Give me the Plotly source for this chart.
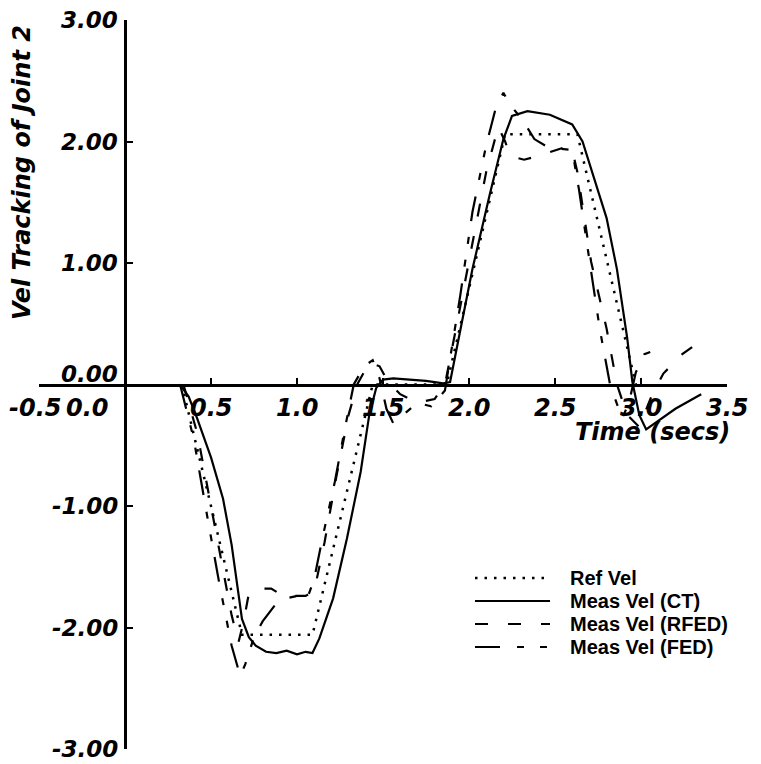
import plotly.graph_objects as go

# ---------------- data ----------------
t_ref = [0.33, 0.68, 1.09, 1.44, 1.87, 2.21, 2.63, 2.97]
v_ref = [0.0, -2.06, -2.06, 0.0, 0.0, 2.06, 2.06, 0.0]

t_ct = [0.32, 0.37, 0.42, 0.50, 0.57, 0.62, 0.68, 0.72, 0.76, 0.82, 0.88, 0.94, 1.00, 1.05,
        1.09, 1.13, 1.21, 1.29, 1.37, 1.42, 1.46, 1.50, 1.56, 1.65, 1.75, 1.85, 1.89, 1.95,
        2.02, 2.12, 2.20, 2.25, 2.34, 2.47, 2.60, 2.66, 2.74, 2.80, 2.86, 2.92, 2.95, 2.99,
        3.03, 3.10, 3.20, 3.35]
v_ct = [0.0, -0.10, -0.28, -0.60, -0.94, -1.32, -1.93, -2.08, -2.15, -2.20, -2.21, -2.19,
        -2.22, -2.20, -2.21, -2.09, -1.76, -1.27, -0.72, -0.25, -0.03, 0.04, 0.05, 0.04, 0.03,
        0.01, 0.02, 0.45, 0.95, 1.56, 2.02, 2.21, 2.25, 2.22, 2.14, 2.00, 1.65, 1.37, 0.95,
        0.38, 0.02, -0.25, -0.37, -0.30, -0.20, -0.08]

t_rfed = [0.34, 0.42, 0.50, 0.56, 0.62, 0.66, 0.69, 0.72, 0.78, 0.85, 0.92, 1.00, 1.05, 1.10,
          1.16, 1.23, 1.30, 1.35, 1.42, 1.48, 1.53, 1.60, 1.70, 1.80, 1.86, 1.93, 2.02, 2.10,
          2.17, 2.21, 2.24, 2.32, 2.40, 2.48, 2.55, 2.60, 2.63, 2.71, 2.80, 2.86, 2.92, 2.99,
          3.06, 3.13, 3.24, 3.30, 3.35]
v_rfed = [0.0, -0.40, -1.00, -1.45, -1.90, -2.12, -1.95, -1.72, -1.68, -1.68, -1.74, -1.74,
          -1.74, -1.70, -1.30, -0.75, -0.25, 0.0, 0.18, 0.15, 0.02, -0.08, -0.15, -0.12, 0.0,
          0.50, 1.15, 1.75, 2.12, 2.00, 1.88, 1.85, 1.88, 1.92, 1.95, 1.93, 1.75, 1.01, 0.46,
          0.0, -0.25, -0.35, -0.10, 0.09, 0.25, 0.31, 0.28]

t_fed = [0.32, 0.40, 0.48, 0.55, 0.62, 0.67, 0.70, 0.75, 0.80, 0.87, 0.94, 1.00, 1.06, 1.10,
         1.15, 1.22, 1.28, 1.33, 1.39, 1.44, 1.48, 1.52, 1.56, 1.62, 1.70, 1.78, 1.83, 1.86,
         1.95, 2.02, 2.10, 2.16, 2.20, 2.24, 2.31, 2.38, 2.45, 2.53, 2.60, 2.64, 2.69, 2.76,
         2.82, 2.86, 2.89, 2.93, 2.97, 3.02, 3.08, 3.14]
v_fed = [0.0, -0.45, -1.10, -1.65, -2.15, -2.40, -2.30, -2.08, -1.95, -1.82, -1.76, -1.74,
         -1.76, -1.60, -1.25, -0.80, -0.35, 0.0, 0.15, 0.20, 0.05, -0.20, -0.32, -0.25, -0.15,
         -0.18, -0.10, -0.05, 0.74, 1.42, 1.97, 2.30, 2.40, 2.30, 2.18, 2.02, 1.96, 1.94, 1.93,
         1.60, 1.12, 0.46, 0.0, -0.15, -0.28, -0.15, 0.10, 0.25, 0.28, 0.25]

x_ticks = [-0.5, 0.0, 0.5, 1.0, 1.5, 2.0, 2.5, 3.0, 3.5]
x_tick_labels = ["-0.5", "0.0", "0.5", "1.0", "1.5", "2.0", "2.5", "3.0", "3.5"]
y_ticks = [3, 2, 1, 0, -1, -2, -3]
y_tick_labels = ["3.00", "2.00", "1.00", "0.00", "-1.00", "-2.00", "-3.00"]

series_names = ["Ref Vel", "Meas Vel (CT)", "Meas Vel (RFED)", "Meas Vel (FED)"]

# ---------------- figure ----------------
fig = go.Figure()
styles = [
    dict(color="black", width=2.5, dash="2.5px,7px"),
    dict(color="black", width=2.2, dash="solid"),
    dict(color="black", width=2.2, dash="13px,20px"),
    dict(color="black", width=2.2, dash="25px,17px,7px,16px,7px,16px"),
]
for name, tx, vy, st in zip(series_names, [t_ref, t_ct, t_rfed, t_fed],
                            [v_ref, v_ct, v_rfed, v_fed], styles):
    fig.add_trace(go.Scatter(x=tx, y=vy, mode="lines", name=name, line=st,
                             showlegend=False))

# plot-area geometry in page pixels (used only to place the hand-made legend)
PX0, PX1, PY0, PY1 = 39, 727, 20, 749


def px_to_paper(px, py):
    return (px - PX0) / (PX1 - PX0), (PY1 - py) / (PY1 - PY0)


tick_font = dict(family="DejaVu Sans", size=24, color="black", weight="bold", style="italic")
annotations = []
for val, lab in zip(x_ticks, x_tick_labels):
    xs = 0
    if val == 0:
        xs = -38
    elif val == -0.5:
        xs = -4
    annotations.append(dict(x=val, y=0, xref="x", yref="y", text=lab, showarrow=False,
                            xanchor="center", yanchor="middle", xshift=xs, yshift=-23,
                            font=tick_font))
ytick_font = dict(tick_font, size=23)
for val, lab in zip(y_ticks, y_tick_labels):
    annotations.append(dict(x=0, y=val, xref="x", yref="y", text=lab, showarrow=False,
                            xanchor="right", yanchor="middle", xshift=-5,
                            yshift=11 if val == 0 else 0, font=ytick_font))
annotations.append(dict(x=-0.0247, y=0.790, xref="paper", yref="paper",
                        text="Vel Tracking of Joint 2", textangle=-90, showarrow=False,
                        xanchor="center", yanchor="middle", font=tick_font))
annotations.append(dict(x=0.892, y=0.435, xref="paper", yref="paper",
                        text="Time (secs)", showarrow=False,
                        xanchor="center", yanchor="middle", font=tick_font))

# hand-made legend (sample lines + labels)
shapes = []
legend_font = dict(family="Liberation Sans", size=20, color="black", weight="bold")
row_y = [578, 601, 624, 647]
for name, st, ry in zip(series_names, styles, row_y):
    xa, ya = px_to_paper(475, ry)
    xb, _ = px_to_paper(550, ry)
    shapes.append(dict(type="line", xref="paper", yref="paper", x0=xa, x1=xb, y0=ya, y1=ya,
                       line=dict(color=st["color"], width=st["width"], dash=st["dash"])))
    xt, yt = px_to_paper(568, ry)
    annotations.append(dict(x=xt, y=yt, xref="paper", yref="paper", text=name,
                            showarrow=False, xanchor="left", yanchor="middle",
                            font=legend_font))

axis_common = dict(showgrid=False, zeroline=False, showline=True, linecolor="black",
                   linewidth=2.5, ticks="inside", ticklen=6, tickwidth=2, tickcolor="black",
                   showticklabels=False, anchor="free")

fig.update_layout(
    width=761, height=764, autosize=False,
    margin=dict(l=31, r=42, t=12, b=23, pad=0),
    plot_bgcolor="white", paper_bgcolor="white",
    xaxis=dict(range=[-0.5, 3.5], tickvals=x_ticks, position=0.5, **axis_common),
    yaxis=dict(range=[-3, 3], tickvals=y_ticks, position=0.125, **axis_common),
    annotations=annotations,
    shapes=shapes,
    showlegend=False,
)

fig.write_html("out.html")
